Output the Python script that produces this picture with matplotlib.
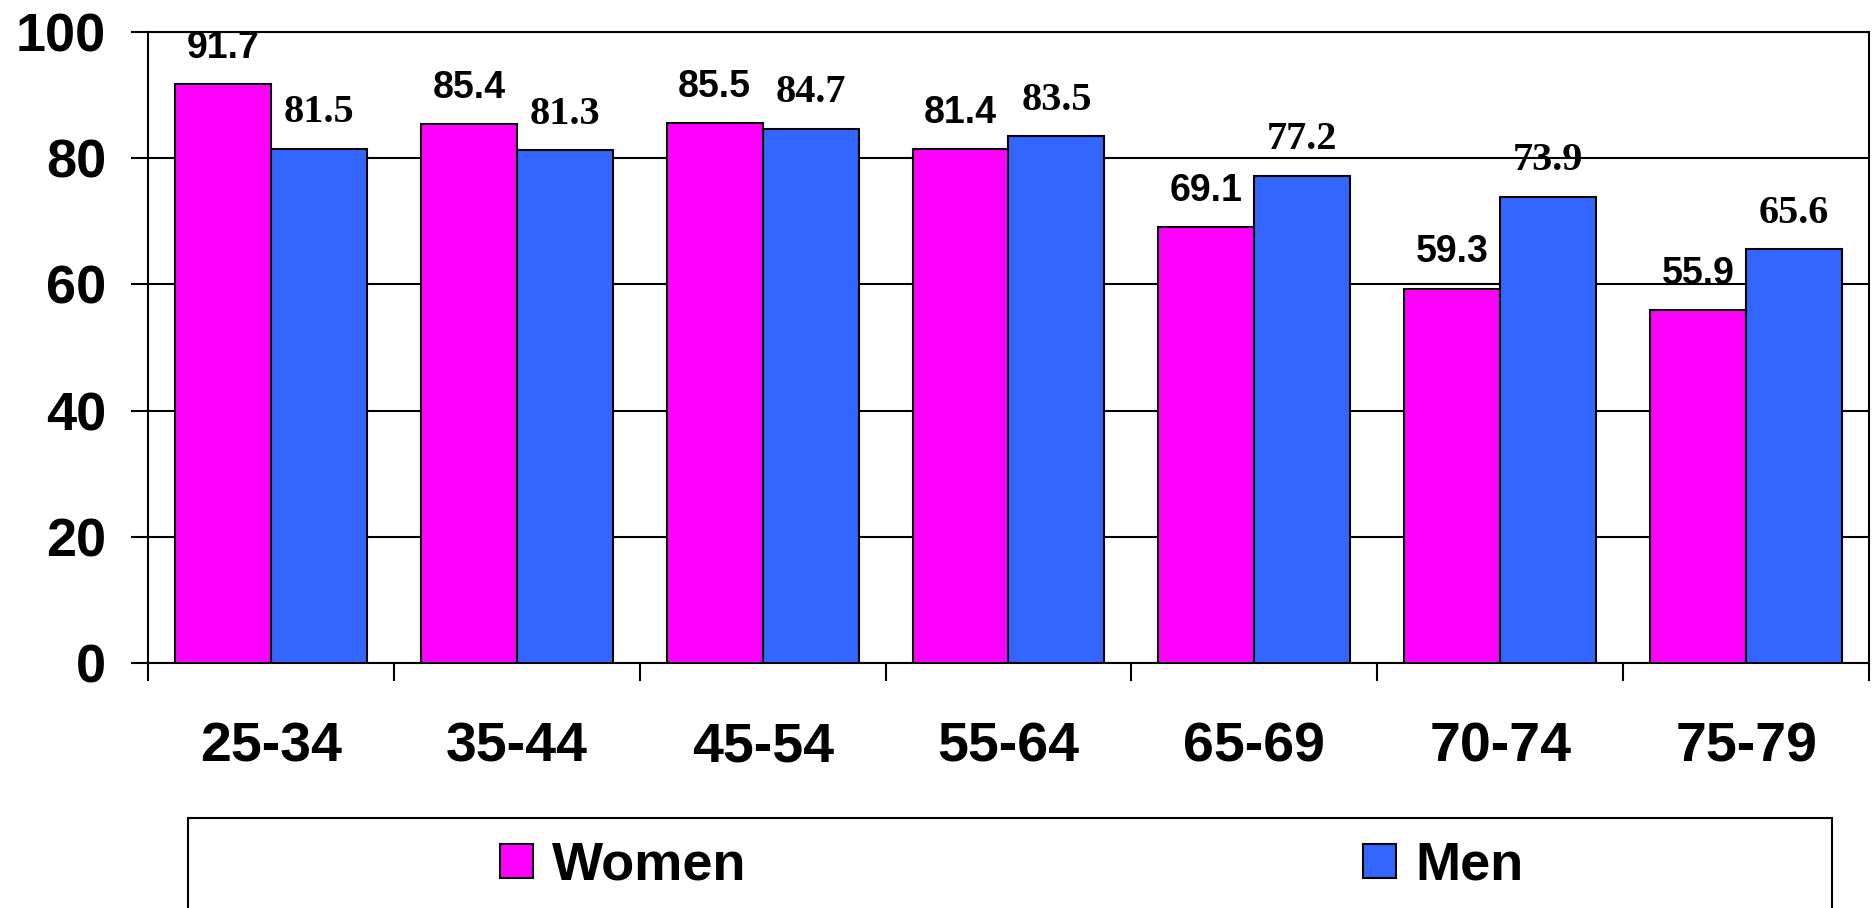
import matplotlib.pyplot as plt
import numpy as np
from matplotlib.patches import Rectangle, Patch

ages = ['25-34', '35-44', '45-54', '55-64', '65-69', '70-74', '75-79']
women = [91.7, 85.4, 85.5, 81.4, 69.1, 59.3, 55.9]
men = [81.5, 81.3, 84.7, 83.5, 77.2, 73.9, 65.6]

pink = '#FF00FF'
blue = '#3366FF'
sans = 'Liberation Sans'
serif = 'Liberation Serif'

fig = plt.figure(figsize=(18.75, 9.08), dpi=100)
ax = fig.add_axes([148/1875, 1 - 663/908, (1869 - 148)/1875, (663 - 32)/908])

x = np.arange(len(ages))
w = 0.39
ax.bar(x - w/2, women, w, color=pink, edgecolor='black', linewidth=1.5, zorder=3)
ax.bar(x + w/2, men, w, color=blue, edgecolor='black', linewidth=1.5, zorder=3)

for i in range(len(ages)):
    ax.annotate(f'{women[i]:.1f}', (x[i] - w/2, women[i]), xytext=(0, 19),
                textcoords='offset points', ha='center', va='baseline',
                fontsize=27, fontweight='bold', family=sans)
    ax.annotate(f'{men[i]:.1f}', (x[i] + w/2, men[i]), xytext=(0, 19),
                textcoords='offset points', ha='center', va='baseline',
                fontsize=29, fontweight='bold', family=serif)

ax.set_xlim(-0.5, len(ages) - 0.5)
ax.set_ylim(0, 100)
ax.set_yticks(range(0, 101, 20))
ax.set_yticklabels([str(v) for v in range(0, 101, 20)], fontsize=39,
                   fontweight='bold', family=sans)
ax.tick_params(axis='y', length=12, width=1.5, pad=18, direction='out')

# group boundary ticks, labels centred on groups
ax.set_xticks(np.arange(-0.5, len(ages)), labels=[''] * (len(ages) + 1))
ax.tick_params(axis='x', which='major', length=13, width=1.5, direction='out')
ax.set_xticks(x, labels=ages, minor=True)
ax.tick_params(axis='x', which='minor', length=0, pad=42)
for lab in ax.get_xticklabels(minor=True):
    lab.set_fontsize(40)
    lab.set_fontweight('bold')
    lab.set_family(sans)

ax.yaxis.grid(True, color='black', linewidth=1.5, zorder=0)
ax.set_axisbelow(True)
for s in ax.spines.values():
    s.set_linewidth(1.5)

# legend frame, cut by bottom of figure
fig.patches.append(Rectangle((188/1875, -0.2), (1832 - 188)/1875, 0.2 + 1 - 818/908,
                             transform=fig.transFigure, fill=False,
                             edgecolor='black', linewidth=1.5))
handles = [Patch(facecolor=pink, edgecolor='black', linewidth=1.5, label='Women'),
           Patch(facecolor=blue, edgecolor='black', linewidth=1.5, label='Men')]
fig.legend(handles=handles, loc='center left', bbox_to_anchor=(500/1875, 1 - 866/908),
           ncol=2, frameon=False, borderpad=0, borderaxespad=0,
           handlelength=0.6, handleheight=0.6,
           handletextpad=0.35, columnspacing=11.4,
           prop={'family': sans, 'weight': 'bold', 'size': 39})

fig.savefig('out.png', dpi=100)
